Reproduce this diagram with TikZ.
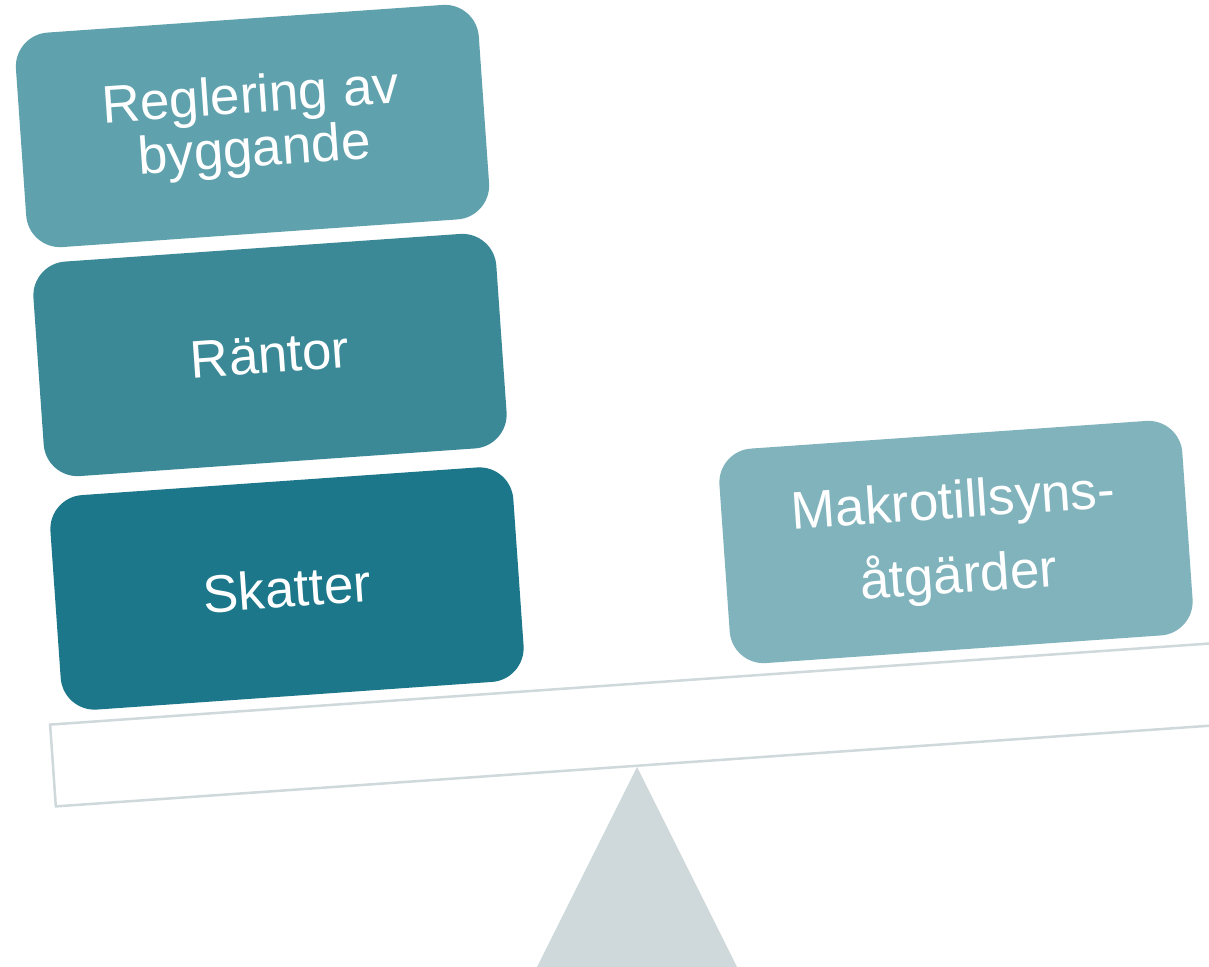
\documentclass[tikz,border=0pt]{standalone}
\usepackage{fontspec}
\setmainfont{Liberation Sans}
\usepackage{xcolor}
\definecolor{weightlight}{HTML}{5FA1AD}
\definecolor{weightmid}{HTML}{3B8997}
\definecolor{weightdark}{HTML}{1B7789}
\definecolor{weightpale}{HTML}{80B3BC}
\definecolor{scalegray}{HTML}{CFD8DA}
\usepackage{tikz}

\begin{document}
\begin{tikzpicture}[x=1pt, y=-1pt,
  weight/.style={rounded corners=34pt, rotate=4, minimum width=464pt, minimum height=215pt, inner sep=0pt, text=white, font=\fontsize{53}{54}\selectfont, align=center},
  beam/.style={draw=scalegray, line width=2.5pt, rotate=4, minimum width=1165pt, minimum height=82pt, inner sep=0pt},
  fulcrum/.style={fill=scalegray}
]
  \useasboundingbox (0,0) rectangle (1209,966);
  \clip (0,0) rectangle (1209,966);
  \node[beam, anchor=south] (beam) at (637,767) {};
  \fill[fulcrum] (beam.south) -- ++(-110,220) -- ++(220,0) -- cycle;

  \node[weight, fill=weightlight] (reglering) at (252.5,126) {Reglering av\\byggande};
  \node[weight, fill=weightmid] (rantor) at (270,355) {Räntor};
  \node[weight, fill=weightdark] (skatter) at (287,588.5) {Skatter};
  \node[weight, fill=weightpale, font=\fontsize{53}{75}\selectfont] (makro) at (956,542) {Makrotillsyns-\\åtgärder};
\end{tikzpicture}
\end{document}
